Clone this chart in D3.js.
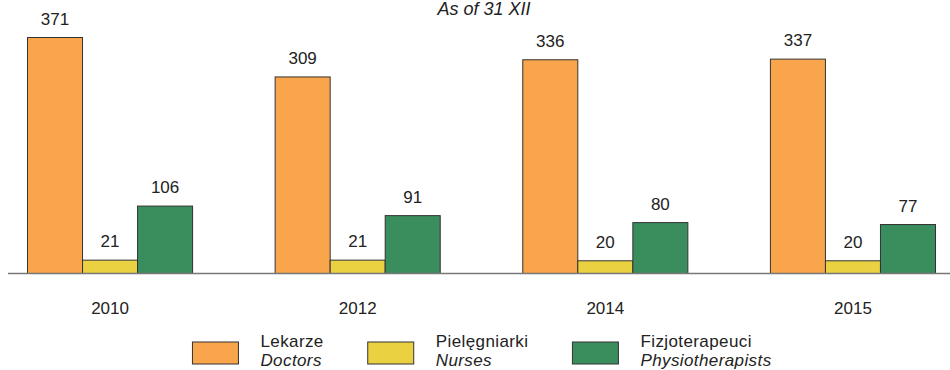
<!DOCTYPE html>
<html>
<head>
<meta charset="utf-8">
<script src="https://cdn.jsdelivr.net/npm/d3@7"></script>
<style>
  html, body { margin: 0; padding: 0; background: #fff; }
  svg { display: block; font-family: "Liberation Sans", Arial, Helvetica, sans-serif; }
</style>
</head>
<body>
<svg id="chart" width="950" height="370"></svg>
<script>
// Staff counts by year (as of 31 December)
const years = ["2010", "2012", "2014", "2015"];
const doctors = [371, 309, 336, 337];
const nurses = [21, 21, 20, 20];
const physiotherapists = [106, 91, 80, 77];

const seriesNames = ["Lekarze", "Pielęgniarki", "Fizjoterapeuci"];
const seriesNamesEn = ["Doctors", "Nurses", "Physiotherapists"];
const seriesColors = ["#f9a54b", "#e9d141", "#3a8d5d"];
const subtitle = "As of 31 XII";

const seriesValues = [doctors, nurses, physiotherapists];
const rows = years.map((y, i) => ({
  year: y,
  values: seriesValues.map((vals, s) => ({ key: s, value: vals[i] }))
}));

const svg = d3.select("#chart");
const baseline = 273.5;
const fontSize = 17;

const x0 = d3.scaleBand()
  .domain(years)
  .range([27.5, 935.5])
  .paddingInner(1 / 3)
  .paddingOuter(0);

const x1 = d3.scaleBand()
  .domain(d3.range(seriesNames.length))
  .range([0, x0.bandwidth()])
  .padding(0);

const y = d3.scaleLinear()
  .domain([0, 371])
  .range([baseline, 37.5]);

// Subtitle
svg.append("text")
  .attr("x", 484)
  .attr("y", 15)
  .attr("text-anchor", "middle")
  .attr("font-size", 18)
  .attr("font-style", "italic")
  .attr("fill", "#222")
  .text(subtitle);

// Bars
const groups = svg.append("g")
  .selectAll("g")
  .data(rows)
  .join("g")
  .attr("transform", d => `translate(${x0(d.year)},0)`);

groups.selectAll("rect")
  .data(d => d.values)
  .join("rect")
  .attr("x", d => x1(d.key))
  .attr("y", d => y(d.value))
  .attr("width", x1.bandwidth())
  .attr("height", d => baseline - y(d.value))
  .attr("fill", d => seriesColors[d.key])
  .attr("stroke", "#333")
  .attr("stroke-width", 1);

// Value labels
groups.selectAll("text.value")
  .data(d => d.values)
  .join("text")
  .attr("class", "value")
  .attr("x", d => x1(d.key) + x1.bandwidth() / 2)
  .attr("y", d => y(d.value) - 13)
  .attr("text-anchor", "middle")
  .attr("font-size", fontSize)
  .attr("fill", "#222")
  .text(d => d.value);

// Baseline axis with year labels
const axis = d3.axisBottom(x0).tickSize(0).tickPadding(0);
const axisG = svg.append("g")
  .attr("transform", `translate(0,${baseline})`)
  .call(axis);
axisG.select(".domain").remove();
axisG.selectAll("text")
  .attr("font-size", fontSize)
  .attr("font-family", "Liberation Sans, Arial, sans-serif")
  .attr("fill", "#222")
  .attr("dy", null)
  .attr("y", 40);

svg.append("line")
  .attr("x1", 8)
  .attr("x2", 950)
  .attr("y1", baseline)
  .attr("y2", baseline)
  .attr("stroke", "#777")
  .attr("stroke-width", 1.5);

// Legend
const legend = svg.append("g");
const items = legend.selectAll("g")
  .data(seriesNames.map((n, i) => ({ name: n, en: seriesNamesEn[i], color: seriesColors[i] })))
  .join("g");

const textOffset = 68;
items.append("rect")
  .attr("x", 0)
  .attr("y", 342)
  .attr("width", 46)
  .attr("height", 22)
  .attr("fill", d => d.color)
  .attr("stroke", "#333")
  .attr("stroke-width", 1);

items.append("text")
  .attr("x", textOffset)
  .attr("y", 347)
  .attr("font-size", fontSize)
  .attr("letter-spacing", 0.4)
  .attr("fill", "#222")
  .text(d => d.name);

items.append("text")
  .attr("x", textOffset)
  .attr("y", 366)
  .attr("font-size", fontSize)
  .attr("letter-spacing", 0.4)
  .attr("font-style", "italic")
  .attr("fill", "#222")
  .text(d => d.en);

// Lay legend items out left to right, then centre the row
let cursor = 0;
const itemGap = 44;
items.each(function () {
  const g = d3.select(this);
  const w = textOffset + d3.max(g.selectAll("text").nodes(), n => n.getComputedTextLength());
  g.attr("transform", `translate(${cursor},0)`);
  cursor += w + itemGap;
});
const totalWidth = cursor - itemGap;
legend.attr("transform", `translate(${482 - totalWidth / 2},0)`);
</script>
</body>
</html>
